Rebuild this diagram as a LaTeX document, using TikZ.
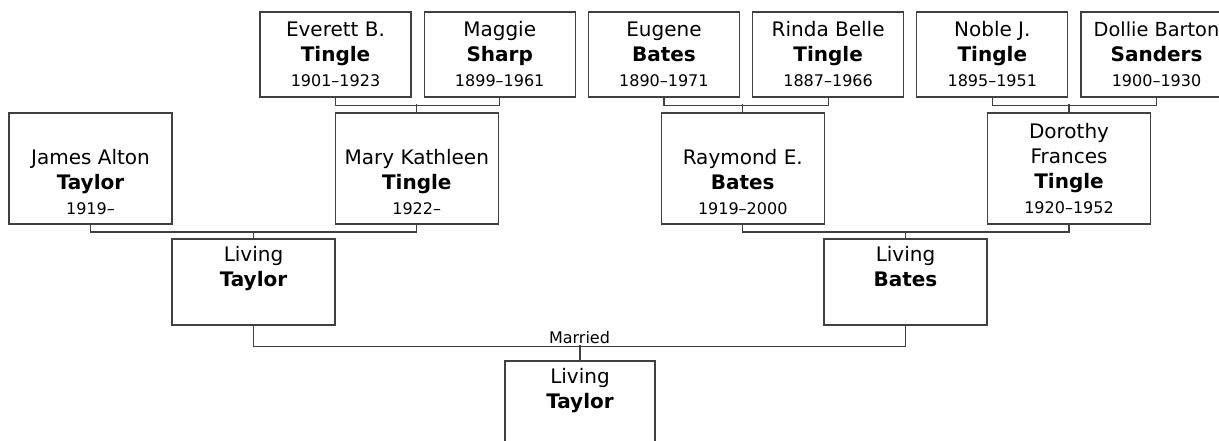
\documentclass[tikz,border=0pt]{standalone}
\usepackage{fontspec}
\setmainfont{DejaVu Sans}
\usetikzlibrary{positioning}
\definecolor{LineGrey}{HTML}{404040}
\newcommand{\yrs}[1]{{\fontsize{12}{14}\selectfont #1}}

\begin{document}
\begin{tikzpicture}[x=0.75pt,y=-0.75pt,node distance=9pt,
every node/.style={font=\fontsize{15}{18.75}\selectfont,text=black},
person/.style={draw=LineGrey,line width=0.9pt,align=center,inner sep=0pt,minimum width=113.25pt,minimum height=63.75pt},
parent/.style={person,minimum width=122.25pt,minimum height=83.25pt},
living/.style={person,minimum width=122.25pt,minimum height=64.5pt},
link/.style={LineGrey,line width=0.9pt}]
\useasboundingbox (0,0) rectangle (1219,441);
% grandparents
\node[person] (everett) at (335.5,54.5) {Everett B.\\\textbf{Tingle}\\\yrs{1901--1923}};
\node[person,right=of everett] (maggie) {Maggie\\\textbf{Sharp}\\\yrs{1899--1961}};
\node[person,right=of maggie] (eugene) {Eugene\\\textbf{Bates}\\\yrs{1890--1971}};
\node[person,right=of eugene] (rinda) {Rinda Belle\\\textbf{Tingle}\\\yrs{1887--1966}};
\node[person,right=of rinda] (noble) {Noble J.\\\textbf{Tingle}\\\yrs{1895--1951}};
\node[person,right=of noble] (dollie) {{\fontsize{14.5}{18}\selectfont Dollie Barton}\\\textbf{Sanders}\\\yrs{1900--1930}};
% parents
\node[parent] (james) at (90.5,168.5) {\strut\\James Alton\\\textbf{Taylor}\\\yrs{1919--}};
\node[parent] (mary) at (416.75,168.5) {\strut\\Mary Kathleen\\\textbf{Tingle}\\\yrs{1922--}};
\node[parent] (raymond) at (742.75,168.5) {\strut\\Raymond E.\\\textbf{Bates}\\\yrs{1919--2000}};
\node[parent] (dorothy) at (1069,168.5) {Dorothy\\Frances\\\textbf{Tingle}\\\yrs{1920--1952}};
% couple
\node[living] (livtaylor) at (253.5,282) {Living\\\textbf{Taylor}\\\yrs{\strut}};
\node[living] (livbates) at (905.5,282) {Living\\\textbf{Bates}\\\yrs{\strut}};
\node[person,minimum width=112.5pt,minimum height=64.5pt] (child) at (580,404) {Living\\\textbf{Taylor}\\\yrs{\strut}};
% family lines
\draw[link] (everett.south) -- ++(0,8) -| (maggie.south) (mary.north) -- ++(0,-8);
\draw[link] (eugene.south) -- ++(0,8) -| (rinda.south) (raymond.north) -- ++(0,-8);
\draw[link] (noble.south) -- ++(0,8) -| (dollie.south) (dorothy.north) -- ++(0,-8);
\draw[link] (james.south) -- ++(0,7.5) -| (mary.south) (livtaylor.north) -- ++(0,-7.5);
\draw[link] (raymond.south) -- ++(0,7.5) -| (dorothy.south) (livbates.north) -- ++(0,-7.5);
\draw[link] (livtaylor.south) -- ++(0,21) -| node[pos=0.25,above,inner sep=1.5pt,font=\fontsize{12}{14}\selectfont] {Married} (livbates.south) (child.north) -- ++(0,-15);
\end{tikzpicture}
\end{document}
